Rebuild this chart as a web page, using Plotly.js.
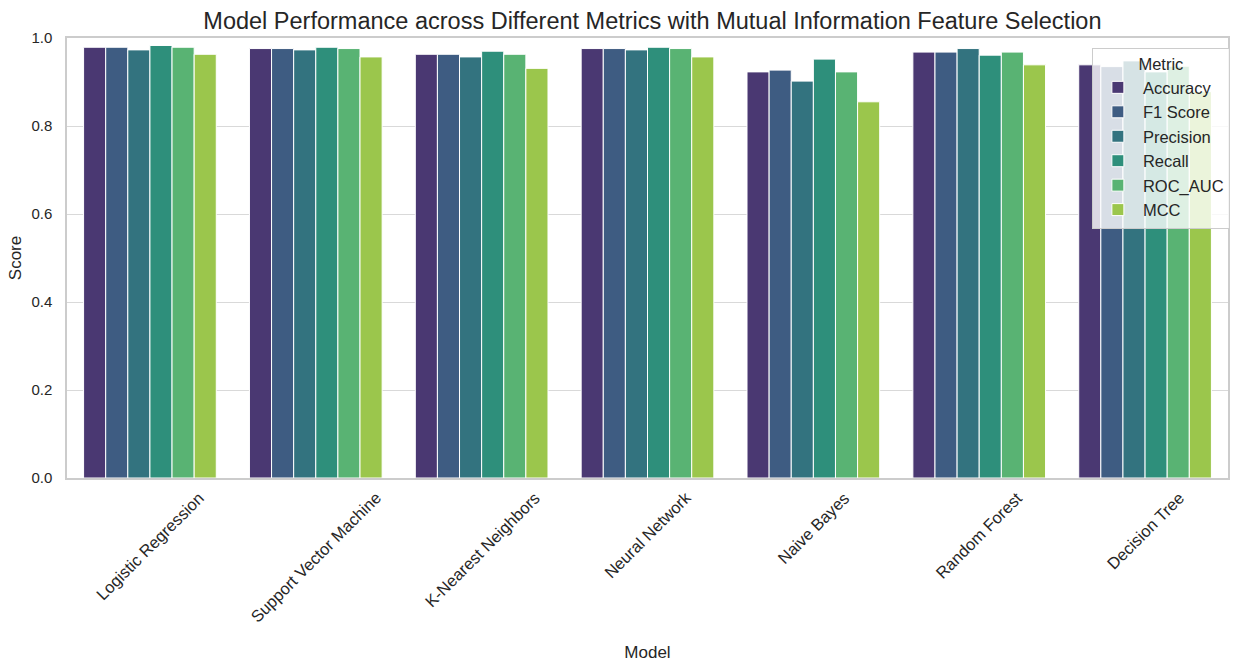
<!DOCTYPE html>
<html>
<head>
<meta charset="utf-8">
<script src="https://cdn.plot.ly/plotly-3.0.1.min.js"></script>
<style>html,body{margin:0;padding:0;background:#fff;}#chart{width:1238px;height:664px;}</style>
</head>
<body>
<div id="chart"></div>
<script>
const models = ["Logistic Regression","Support Vector Machine","K-Nearest Neighbors","Neural Network","Naive Bayes","Random Forest","Decision Tree"];
const metrics = ["Accuracy","F1 Score","Precision","Recall","ROC_AUC","MCC"];
const accuracy  = [0.979,0.976,0.963,0.976,0.923,0.968,0.939];
const f1Score   = [0.979,0.976,0.963,0.976,0.927,0.968,0.935];
const precision = [0.973,0.973,0.957,0.973,0.902,0.976,0.948];
const recall    = [0.983,0.979,0.970,0.979,0.952,0.961,0.923];
const rocAuc    = [0.979,0.976,0.963,0.976,0.923,0.968,0.936];
const mcc       = [0.963,0.957,0.931,0.957,0.855,0.939,0.878];
const seriesValues = [accuracy,f1Score,precision,recall,rocAuc,mcc];
const colors = ["#4a3872","#3e5c82","#33737f","#2e8f7b","#59b373","#9bc64c"];

const traces = metrics.map((m,i)=>({
  type:"bar", name:m, x:models, y:seriesValues[i],
  marker:{color:colors[i], line:{color:"#ffffff", width:1}}
}));

const font = "Liberation Sans, Arial, sans-serif";
const tickAnnotations = models.map(m=>({
  text:m, x:m, xref:"x", y:0, yref:"paper", yanchor:"top", xanchor:"center",
  yshift:-8, textangle:-45, showarrow:false, font:{size:16.5, color:"#262626"}
}));

const layout = {
  width:1238, height:664,
  margin:{l:67, r:9, t:38, b:186},
  paper_bgcolor:"#fff", plot_bgcolor:"#fff",
  barmode:"group", bargap:0.2, bargroupgap:0,
  font:{family:font, color:"#262626", size:15},
  title:{text:"Model Performance across Different Metrics with Mutual Information Feature Selection",
    font:{size:23.5, color:"#262626"}, x:0.527, xanchor:"center", y:0.968, yanchor:"middle"},
  xaxis:{title:{text:"Model", font:{size:17}, standoff:167},
    showticklabels:false,
    showline:true, mirror:true, linecolor:"#cccccc", linewidth:1.5,
    showgrid:false, ticks:"", range:[-0.5,6.5]},
  yaxis:{title:{text:"Score", font:{size:17}, standoff:5},
    range:[0,1], dtick:0.2, tickformat:".1f", tickfont:{size:15, color:"#262626"},
    ticklabelstandoff:10,
    showline:true, mirror:true, linecolor:"#cccccc", linewidth:1.5,
    showgrid:true, gridcolor:"#d9d9d9", gridwidth:1.2, zeroline:false, ticks:""},
  legend:{title:{text:"Metric", side:"top center", font:{size:16.5}},
    x:0.882, xanchor:"left", y:0.978, yanchor:"top",
    bgcolor:"rgba(255,255,255,0.8)", bordercolor:"#cccccc", borderwidth:1,
    font:{size:16.5}, tracegroupgap:0, itemwidth:40},
  annotations:tickAnnotations,
  showlegend:true
};
Plotly.newPlot("chart", traces, layout, {displayModeBar:false, responsive:false});
</script>
</body>
</html>
